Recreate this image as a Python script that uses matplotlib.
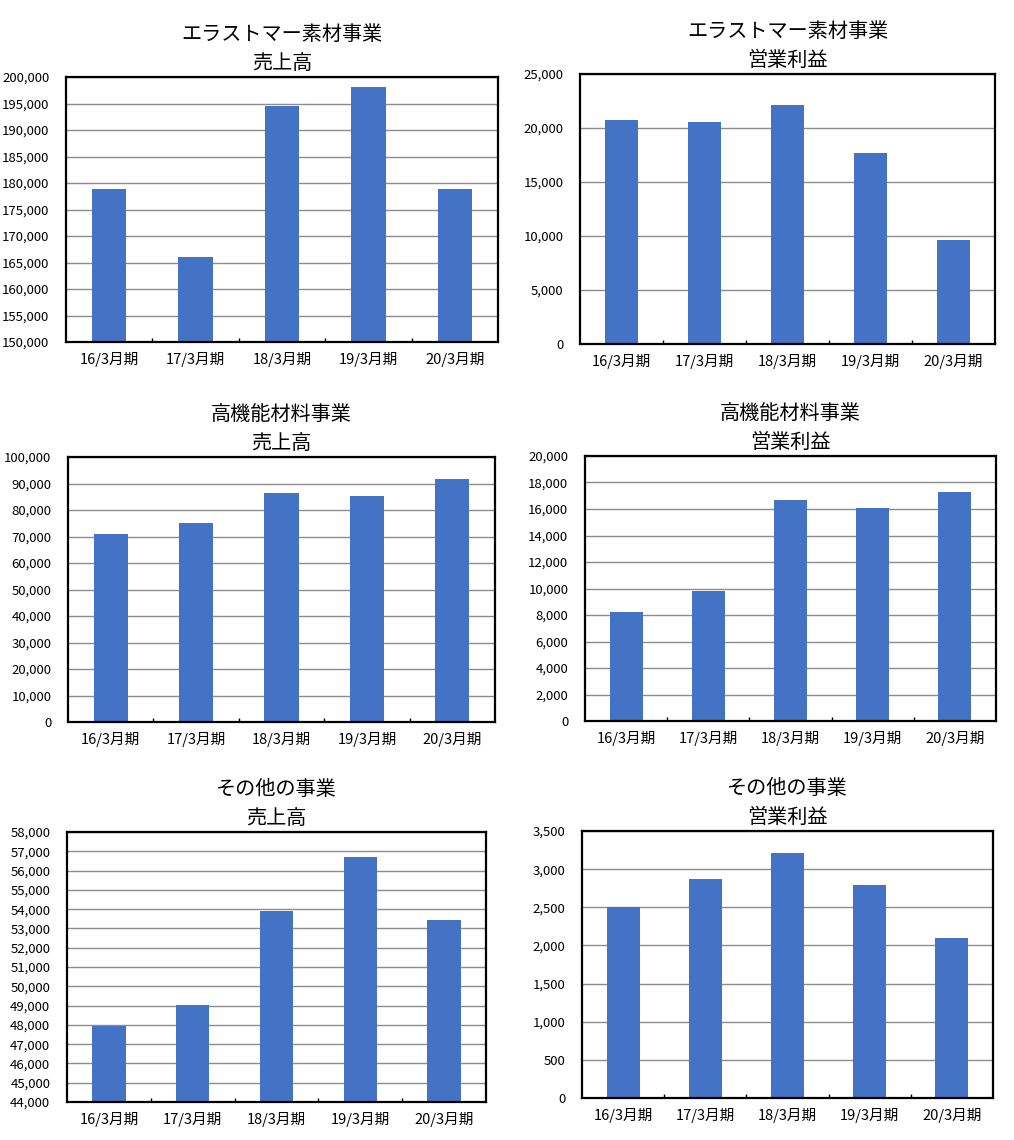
import numpy as np
import matplotlib
matplotlib.use("Agg")
import matplotlib.pyplot as plt
from matplotlib.ticker import FuncFormatter, MultipleLocator

plt.rcParams['font.family'] = ['Noto Sans CJK JP', 'DejaVu Sans']

# データ (百万円)
PERIODS = ["16/3月期", "17/3月期", "18/3月期", "19/3月期", "20/3月期"]

elastomer_sales = [178900, 166100, 194500, 198100, 178900]
elastomer_profit = [20750, 20550, 22150, 17650, 9650]
functional_sales = [70800, 75000, 86300, 85200, 91600]
functional_profit = [8200, 9800, 16700, 16100, 17300]
other_sales = [47960, 49020, 53920, 56720, 53450]
other_profit = [2500, 2870, 3210, 2790, 2100]

TITLES = [
    "エラストマー素材事業\n売上高",
    "エラストマー素材事業\n営業利益",
    "高機能材料事業\n売上高",
    "高機能材料事業\n営業利益",
    "その他の事業\n売上高",
    "その他の事業\n営業利益",
]
SERIES = [elastomer_sales, elastomer_profit, functional_sales,
          functional_profit, other_sales, other_profit]
YRANGE = [(150000, 200000, 5000), (0, 25000, 5000), (0, 100000, 10000),
          (0, 20000, 2000), (44000, 58000, 1000), (0, 3500, 500)]

# 軸の位置 (ピクセル: left, top, right, bottom)
BOXES = [(66, 77, 498, 342), (580, 74, 995, 344),
         (68, 457, 495, 722), (585, 456, 996, 721),
         (67, 832, 486, 1102), (582, 831, 993, 1098)]

W, H = 1014, 1140
fig = plt.figure(figsize=(W/100, H/100), dpi=100)

BAR = "#4472C4"

for title, vals, (lo, hi, step), (l, t, r, b) in zip(TITLES, SERIES, YRANGE, BOXES):
    ax = fig.add_axes([l/W, 1-b/H, (r-l)/W, (b-t)/H])
    x = np.arange(len(PERIODS))
    ax.bar(x, vals, width=0.4, color=BAR, zorder=3)
    ax.set_xlim(-0.5, len(PERIODS)-0.5)
    ax.set_ylim(lo, hi)
    ax.yaxis.set_major_locator(MultipleLocator(step))
    ax.yaxis.set_major_formatter(FuncFormatter(lambda v, p: f"{int(round(v)):,}"))
    ax.set_xticks(x)
    ax.set_xticklabels(PERIODS, fontsize=10.5)
    ax.set_xticks(np.arange(0.5, len(PERIODS)-0.5, 1), minor=True)
    ax.tick_params(axis="x", which="major", length=0, pad=7)
    ax.tick_params(axis="x", which="minor", direction="in", length=3, width=1, color="black")
    ax.tick_params(axis="y", length=0, pad=12, labelsize=9.5)
    ax.grid(axis="y", color="#8c8c8c", lw=1, zorder=1)
    ax.set_axisbelow(True)
    for s in ax.spines.values():
        s.set_linewidth(1.6)
        s.set_color("black")
        s.set_zorder(5)
    ax.set_title(title, fontsize=14.5, pad=6, linespacing=1.5)

fig.savefig("out.png", dpi=100, facecolor="white")
